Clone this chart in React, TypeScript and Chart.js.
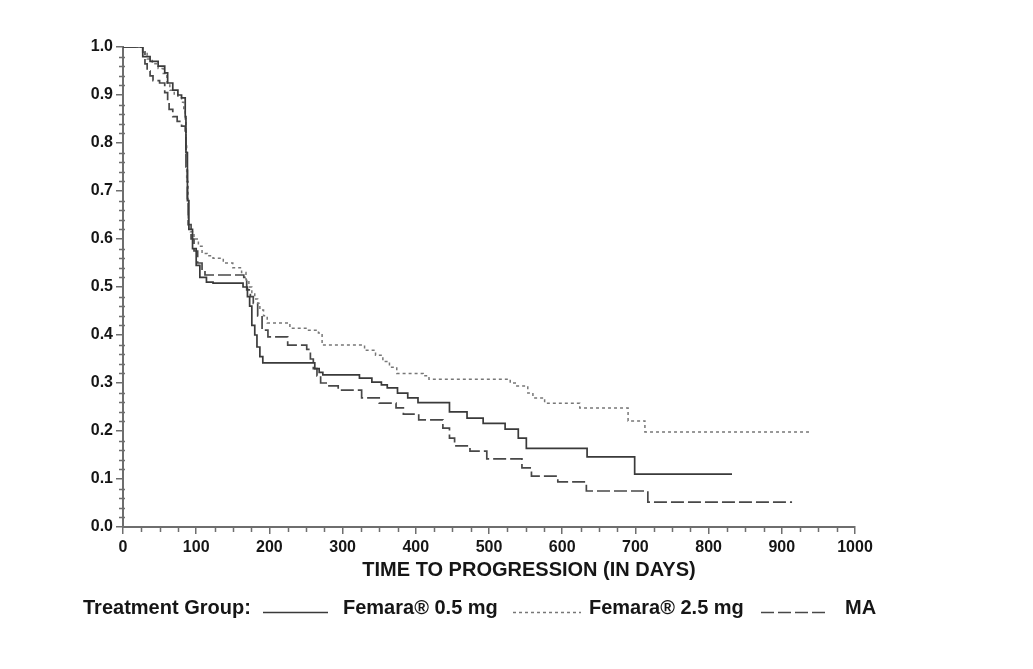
import React, { useEffect, useRef } from "react";
import { Chart, registerables } from "chart.js";

Chart.register(...registerables);

// ---- data ----
const femara05Days = [0, 27, 37, 48, 57, 61, 68, 75, 80, 85, 86, 88, 90, 95, 100, 105, 114, 123, 164, 170, 173, 176, 180, 183, 187, 191, 262, 268, 273, 323, 340, 353, 361, 375, 389, 403, 446, 470, 492, 522, 540, 551, 634, 699, 832];
const femara05Surv = [1, 0.98, 0.97, 0.96, 0.946, 0.925, 0.91, 0.9, 0.894, 0.855, 0.78, 0.68, 0.62, 0.58, 0.545, 0.52, 0.51, 0.508, 0.5, 0.48, 0.46, 0.42, 0.4, 0.375, 0.355, 0.342, 0.33, 0.322, 0.317, 0.31, 0.302, 0.296, 0.29, 0.279, 0.269, 0.259, 0.24, 0.227, 0.216, 0.204, 0.185, 0.164, 0.146, 0.11, 0.11];

const femara25Days = [0, 27, 33, 40, 48, 55, 60, 64, 70, 75, 80, 83, 85, 86, 87, 89, 92, 97, 103, 108, 115, 123, 137, 150, 162, 168, 172, 176, 180, 184, 187, 192, 197, 228, 251, 267, 272, 330, 345, 355, 364, 374, 410, 418, 529, 538, 553, 560, 576, 624, 690, 713, 941];
const femara25Surv = [1, 0.99, 0.975, 0.965, 0.955, 0.945, 0.925, 0.91, 0.9, 0.895, 0.885, 0.87, 0.85, 0.8, 0.72, 0.63, 0.615, 0.6, 0.585, 0.57, 0.565, 0.56, 0.55, 0.54, 0.53, 0.515, 0.5, 0.487, 0.475, 0.466, 0.452, 0.44, 0.425, 0.414, 0.41, 0.404, 0.379, 0.368, 0.358, 0.345, 0.333, 0.32, 0.315, 0.308, 0.3, 0.294, 0.279, 0.269, 0.258, 0.248, 0.221, 0.198, 0.198];

const maDays = [0, 27, 30, 33, 37, 41, 50, 57, 61, 63, 68, 74, 80, 85, 86, 88, 89, 93, 97, 102, 108, 112, 165, 169, 174, 178, 184, 190, 198, 225, 251, 256, 260, 265, 270, 280, 294, 326, 350, 373, 383, 404, 437, 446, 453, 474, 497, 545, 558, 594, 633, 717, 914];
const maSurv = [1, 0.99, 0.965, 0.95, 0.94, 0.93, 0.925, 0.905, 0.885, 0.87, 0.855, 0.845, 0.835, 0.825, 0.75, 0.68, 0.63, 0.6, 0.575, 0.55, 0.535, 0.525, 0.52, 0.494, 0.48, 0.466, 0.44, 0.41, 0.396, 0.379, 0.37, 0.35, 0.33, 0.315, 0.3, 0.294, 0.285, 0.269, 0.258, 0.248, 0.235, 0.223, 0.206, 0.185, 0.169, 0.158, 0.142, 0.123, 0.106, 0.094, 0.075, 0.052, 0.052];

const seriesLabels = ["Femara\u00AE 0.5 mg", "Femara\u00AE 2.5 mg", "MA"];
const legendTitle = "Treatment Group:";
const xAxisTitle = "TIME TO PROGRESSION (IN DAYS)";
const xTickValues = [0, 100, 200, 300, 400, 500, 600, 700, 800, 900, 1000];
const xTickLabels = ["0", "100", "200", "300", "400", "500", "600", "700", "800", "900", "1000"];
const yTickValues = [0, 0.1, 0.2, 0.3, 0.4, 0.5, 0.6, 0.7, 0.8, 0.9, 1.0];
const yTickLabels = ["0.0", "0.1", "0.2", "0.3", "0.4", "0.5", "0.6", "0.7", "0.8", "0.9", "1.0"];
const xMinorStep = 25;
const yMinorStep = 0.02;

const FONT = "'Liberation Sans', Arial, Helvetica, sans-serif";
const AXIS_COLOR = "#6e6e6e";
const TEXT_COLOR = "#161616";

function toPoints(days: number[], surv: number[]) {
  const n = Math.min(days.length, surv.length);
  const out: { x: number; y: number }[] = [];
  for (let i = 0; i < n; i++) out.push({ x: days[i], y: surv[i] });
  return out;
}

const minorTicksPlugin = {
  id: "minorTicks",
  afterDraw(chart: any) {
    const { ctx, chartArea } = chart;
    const xs = chart.scales.x;
    const ys = chart.scales.y;
    ctx.save();
    ctx.strokeStyle = AXIS_COLOR;
    ctx.lineWidth = 1.5;
    ctx.beginPath();
    for (let v = xMinorStep; v < 1000; v += xMinorStep) {
      if (v % 100 === 0) continue;
      const px = Math.round(xs.getPixelForValue(v)) + 0.5;
      ctx.moveTo(px, chartArea.bottom);
      ctx.lineTo(px, chartArea.bottom + 5);
    }
    for (let i = 1; i < 50; i++) {
      if (i % 5 === 0) continue;
      const py = Math.round(ys.getPixelForValue(i * yMinorStep)) + 0.5;
      ctx.moveTo(chartArea.left - 4, py);
      ctx.lineTo(chartArea.left + 2, py);
    }
    ctx.stroke();
    ctx.restore();
  },
};

const legendPlugin = {
  id: "customLegend",
  afterDraw(chart: any) {
    const { ctx } = chart;
    const ds = chart.data.datasets;
    // axis title (offset to the right as in the reference)
    ctx.save();
    ctx.font = `bold 20px ${FONT}`;
    ctx.fillStyle = TEXT_COLOR;
    ctx.textBaseline = "middle";
    ctx.textAlign = "center";
    ctx.fillText(xAxisTitle, 521, 562);

    const ty = 600;
    const ly = 604;
    ctx.textAlign = "left";
    ctx.fillText(legendTitle, 75, ty);
    const samples = [
      { x0: 255, x1: 320, tx: 335 },
      { x0: 505, x1: 573, tx: 581 },
      { x0: 753, x1: 821, tx: 837 },
    ];
    samples.forEach((s, i) => {
      const d = ds[i];
      ctx.save();
      ctx.strokeStyle = d.borderColor;
      ctx.lineWidth = d.borderWidth;
      ctx.setLineDash(d.borderDash || []);
      ctx.beginPath();
      ctx.moveTo(s.x0, ly + 0.5);
      ctx.lineTo(s.x1, ly + 0.5);
      ctx.stroke();
      ctx.restore();
      ctx.fillText(d.label, s.tx, ty);
    });
    ctx.restore();
  },
};

export default function App() {
  const ref = useRef<HTMLCanvasElement | null>(null);

  useEffect(() => {
    if (!ref.current) return;
    const chart = new Chart(ref.current, {
      type: "line",
      data: {
        datasets: [
          {
            label: seriesLabels[0],
            data: toPoints(femara05Days, femara05Surv),
            borderColor: "#3a3a3a",
            borderWidth: 1.7,
            stepped: "before",
            pointRadius: 0,
            fill: false,
          },
          {
            label: seriesLabels[1],
            data: toPoints(femara25Days, femara25Surv),
            borderColor: "#777777",
            borderWidth: 1.5,
            borderDash: [3, 3],
            stepped: "before",
            pointRadius: 0,
            fill: false,
          },
          {
            label: seriesLabels[2],
            data: toPoints(maDays, maSurv),
            borderColor: "#484848",
            borderWidth: 1.7,
            borderDash: [13, 4],
            stepped: "before",
            pointRadius: 0,
            fill: false,
          },
        ],
      },
      options: {
        responsive: false,
        animation: false,
        layout: { padding: { left: 0, right: 170, top: 39, bottom: 74 } },
        plugins: {
          legend: { display: false },
          tooltip: { enabled: false },
        },
        scales: {
          x: {
            type: "linear",
            min: 0,
            max: 1000,
            afterBuildTicks: (scale: any) => {
              scale.ticks = xTickValues.map((v) => ({ value: v }));
            },
            afterFit: (scale: any) => {
              scale.height = 60;
            },
            ticks: {
              font: { family: FONT, size: 16, weight: "bold" },
              color: TEXT_COLOR,
              padding: 4,
              maxRotation: 0,
              autoSkip: false,
              callback: (v: any) => {
                const i = xTickValues.indexOf(Number(v));
                return i >= 0 ? xTickLabels[i] : "";
              },
            },
            grid: {
              drawOnChartArea: false,
              drawTicks: true,
              tickLength: 7,
              color: AXIS_COLOR,
              lineWidth: 1.5,
            },
            border: { display: true, color: AXIS_COLOR, width: 2 },
            title: { display: false },
          },
          y: {
            type: "linear",
            min: 0,
            max: 1,
            afterBuildTicks: (scale: any) => {
              scale.ticks = yTickValues.map((v) => ({ value: v }));
            },
            afterFit: (scale: any) => {
              scale.width = 115;
            },
            ticks: {
              font: { family: FONT, size: 16, weight: "bold" },
              color: TEXT_COLOR,
              padding: 3,
              callback: (v: any) => {
                let best = 0;
                yTickValues.forEach((t, i) => {
                  if (Math.abs(t - Number(v)) < Math.abs(yTickValues[best] - Number(v))) best = i;
                });
                return yTickLabels[best];
              },
            },
            grid: {
              drawOnChartArea: false,
              drawTicks: true,
              tickLength: 7,
              color: AXIS_COLOR,
              lineWidth: 1.5,
            },
            border: { display: true, color: AXIS_COLOR, width: 2 },
          },
        },
      },
      plugins: [minorTicksPlugin, legendPlugin],
    } as any);
    return () => chart.destroy();
  }, []);

  return (
    <div style={{ width: 1017, height: 653, position: "relative" }}>
      <canvas ref={ref} width={1017} height={653} style={{ display: "block" }} />
    </div>
  );
}
